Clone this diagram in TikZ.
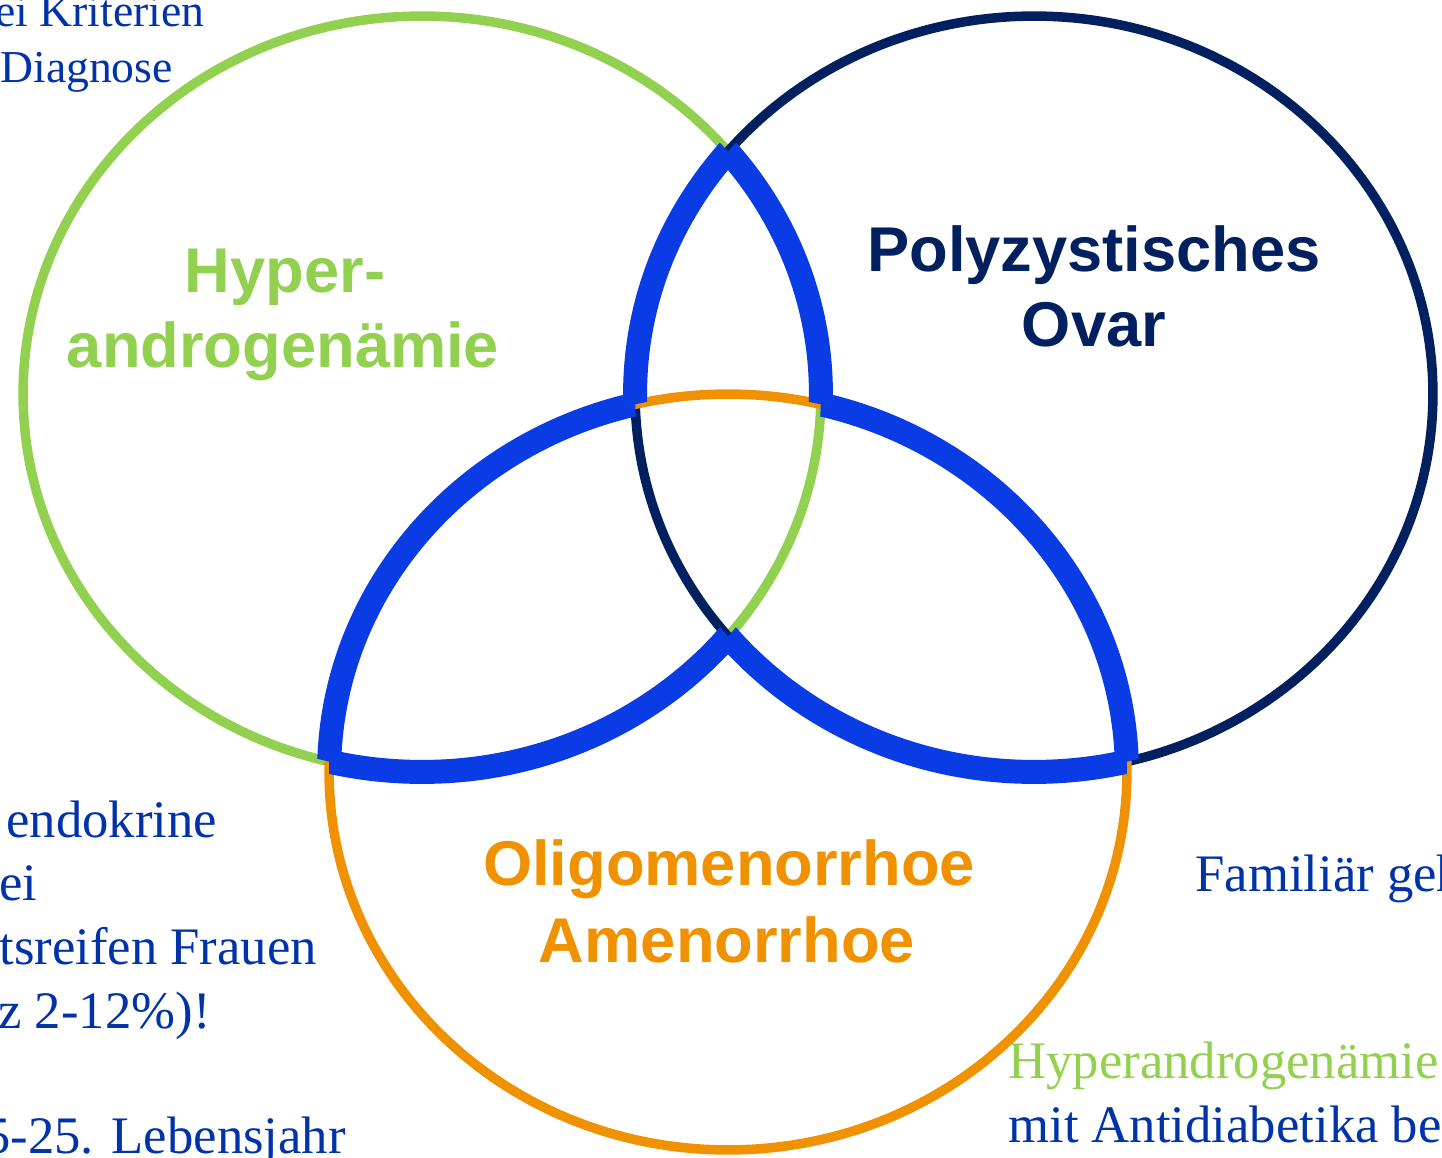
\documentclass[tikz,border=0pt]{standalone}
\usepackage{fontspec}
\setmainfont{Liberation Serif}
\setsansfont{Liberation Sans}
\definecolor{hagreen}{HTML}{92D050}
\definecolor{pconavy}{HTML}{002060}
\definecolor{oligoorange}{HTML}{F09100}
\definecolor{overlapblue}{HTML}{0A3CE6}
\definecolor{textblue}{HTML}{0033AA}
\def\rx{7.98cm}
\def\ry{7.56cm}
% thick blue piece of ellipse #1 lying inside #2 but outside #3
\newcommand{\overlapseg}[3]{\begin{scope}[even odd rule]
  \clip (#2) ellipse [x radius=\rx,y radius=\ry];
  \clip (-50,-50) rectangle (1500,1250) (#3) ellipse [x radius=\rx,y radius=\ry];
  \draw[draw=overlapblue,line width=0.48cm] (#1) ellipse [x radius=\rx,y radius=\ry];
\end{scope}}

\begin{document}
\begin{tikzpicture}[x=0.02cm,y=-0.02cm,
  ring/.style={line width=0.19cm},
  title/.style={font=\fontsize{36}{43}\selectfont\sffamily\bfseries,inner sep=0pt,anchor=base},
  note/.style={font=\fontsize{30}{36}\selectfont,text=textblue,inner sep=0pt,anchor=base west}]
  \useasboundingbox (0,0) rectangle (1442,1158);
  \clip (0,0) rectangle (1442,1158);
  \coordinate (G) at (422,394);
  \coordinate (N) at (1034,394);
  \coordinate (O) at (728,772);

  \draw[ring,draw=hagreen] (G) ellipse [x radius=\rx,y radius=\ry];
  \draw[ring,draw=pconavy] (N) ellipse [x radius=\rx,y radius=\ry];
  \draw[ring,draw=oligoorange] (O) ellipse [x radius=\rx,y radius=\ry];

  \foreach \e/\i/\o in {N/G/O,N/O/G,G/N/O,G/O/N,O/G/N,O/N/G} {
    \overlapseg{\e}{\i}{\o}
  }

  \node[title,text=hagreen] (ha1) at (285,293) {Hyper-};
  \node[title,text=hagreen] (ha2) at (283,368) {androgenämie};
  \node[title,text=pconavy] (pco1) at (1094,272) {Polyzystisches};
  \node[title,text=pconavy] (pco2) at (1094,347) {Ovar};
  \node[title,text=oligoorange] (oa1) at (729,885) {Oligomenorrhoe};
  \node[title,text=oligoorange] (oa2) at (727,962) {Amenorrhoe};

  \node[note,font=\fontsize{26}{31}\selectfont] (crit) at (-5,27) {ei Kriterien};
  \node[note,font=\fontsize{26}{31}\selectfont] (diag) at (0,83) {Diagnose};
  \foreach \x/\y/\t in {6/837/endokrine,-1/900/ei,-1/964/tsreifen Frauen,-2/1028/{z 2-12\%)!},-16/1153/{5-25. Lebensjahr}} {
    \node[note] (left\y) at (\x,\y) {\t};
  }
  \node[note] (fam) at (1195,891) {Familiär geh};
  \node[note,text=hagreen] (hyp) at (1008,1078) {Hyperandrogenämie};
  \node[note] (anti) at (1008,1142) {mit Antidiabetika be};
\end{tikzpicture}
\end{document}
